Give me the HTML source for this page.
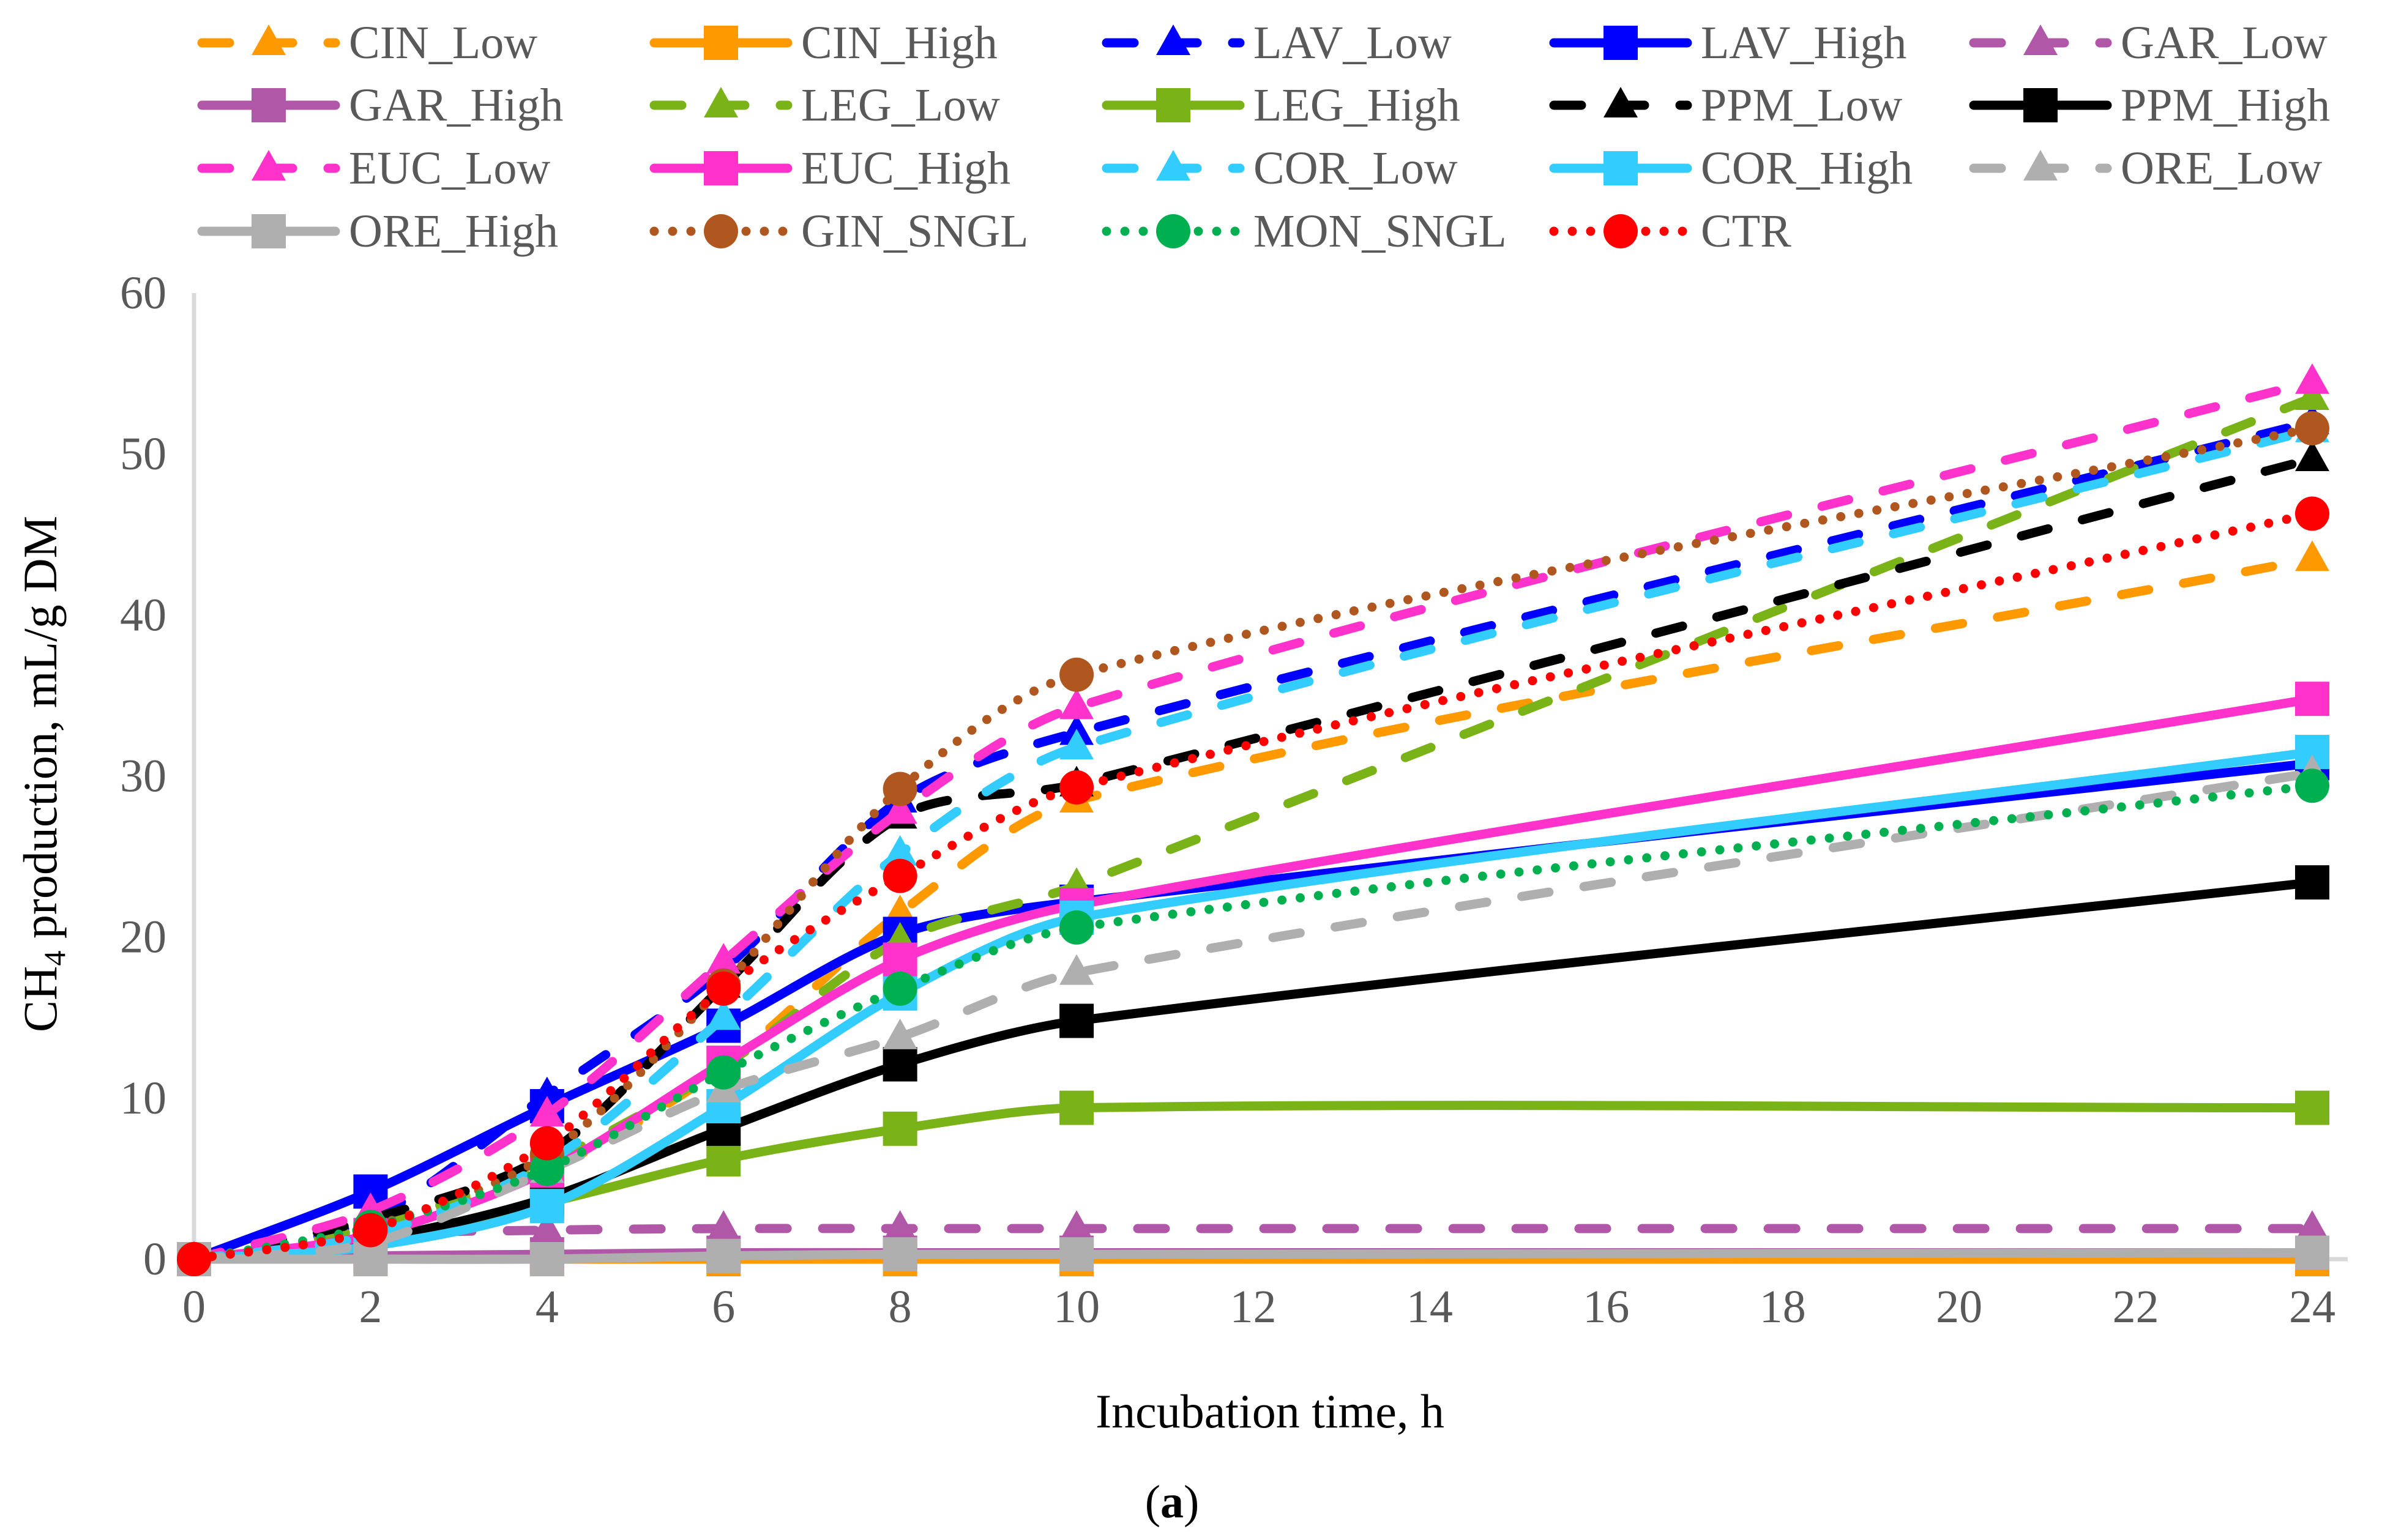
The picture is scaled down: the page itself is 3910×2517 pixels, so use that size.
<!DOCTYPE html>
<html><head><meta charset="utf-8"><style>
html,body{margin:0;padding:0;background:#fff}
svg{display:block}
text{font-family:"Liberation Serif",serif}
</style></head><body>
<svg id="chart" width="3910" height="2517" viewBox="0 0 3910 2517" xmlns="http://www.w3.org/2000/svg">
<g id="axes"></g>
<g id="series"></g>
<g id="legend"></g>
<text x="2075" y="2333" font-size="78" text-anchor="middle" fill="#000">Incubation time, h</text>
<text x="1915" y="2480" font-size="76" text-anchor="middle" fill="#000">(<tspan font-weight="bold">a</tspan>)</text>
<text transform="translate(92,1265) rotate(-90)" font-size="78" text-anchor="middle" fill="#000">CH<tspan font-size="50" dy="14">4</tspan><tspan dy="-14"> production, mL/g DM</tspan></text>
</svg>
<script>
const hours = [0,2,4,6,8,10,24];
const xTicks = [0,2,4,6,8,10,12,14,16,18,20,22,24];
const yTicks = [0,10,20,30,40,50,60];
const names = ["CIN_Low","CIN_High","LAV_Low","LAV_High","GAR_Low","GAR_High","LEG_Low","LEG_High","PPM_Low","PPM_High","EUC_Low","EUC_High","COR_Low","COR_High","ORE_Low","ORE_High","GIN_SNGL","MON_SNGL","CTR"];
const colors = ["#ff9900","#ff9900","#0000ff","#0000ff","#b057a8","#b057a8","#7ab317","#7ab317","#000000","#000000","#ff33cc","#ff33cc","#33ccff","#33ccff","#afafaf","#afafaf","#b0561f","#00b050","#ff0000"];
const styles = ["low","high","low","high","low","high","low","high","low","high","low","high","low","high","low","high","dot","dot","dot"];
const CIN_Low  = [0,2,5.5,12,21.5,28.5,43.5];
const CIN_High = [0,0,0,0,0,0,0];
const LAV_Low  = [0,2.5,10.2,18,28.5,32.7,52];
const LAV_High = [0,4.2,9.5,14.5,20.2,22.2,30.8];
const GAR_Low  = [0,1.5,1.8,1.9,1.9,1.9,1.9];
const GAR_High = [0,0.2,0.3,0.4,0.4,0.4,0.4];
const LEG_Low  = [0,2,6,12,19.8,23.2,53.5];
const LEG_High = [0,1.2,3.5,6.2,8.1,9.4,9.4];
const PPM_Low  = [0,2.5,6.5,17,27.5,29.5,49.7];
const PPM_High = [0,1.2,3.8,8.1,12.1,14.8,23.4];
const EUC_Low  = [0,3,9,18.5,27.8,34.3,54.5];
const EUC_High = [0,1.5,5.5,12.2,18.6,22,34.8];
const COR_Low  = [0,1.5,6,15,25.2,31.8,51.5];
const COR_High = [0,0.8,3.3,9.5,16.5,21.2,31.5];
const ORE_Low  = [0,1,5.5,10.5,13.8,17.8,30.2];
const ORE_High = [0,0,0,0.2,0.3,0.3,0.4];
const GIN_SNGL = [0,2,6.5,17,29.2,36.3,51.6];
const MON_SNGL = [0,2,5.6,11.6,16.8,20.6,29.4];
const CTR      = [0,1.8,7.2,16.8,23.8,29.3,46.3];
const seriesValues = [CIN_Low,CIN_High,LAV_Low,LAV_High,GAR_Low,GAR_High,LEG_Low,LEG_High,PPM_Low,PPM_High,EUC_Low,EUC_High,COR_Low,COR_High,ORE_Low,ORE_High,GIN_SNGL,MON_SNGL,CTR];

const NS="http://www.w3.org/2000/svg";
const X0=317, X1=3778, Y0=2058, Y1=479;
function sx(v){return X0+(v-0)/(24-0)*(X1-X0);}
function sy(v){return Y0-(v-0)/(60-0)*(Y0-Y1);}
function mk(tag,attrs,parent){const e=document.createElementNS(NS,tag);for(const k in attrs)e.setAttribute(k,attrs[k]);parent.appendChild(e);return e;}

const axes=document.getElementById('axes');
let yl=mk('line',{x1:X0,y1:Y1,x2:X0,y2:Y0,stroke:'#d9d9d9','stroke-width':7},axes);


let xl=mk('line',{x1:X0,y1:Y0,x2:3836,y2:Y0,stroke:'#d9d9d9','stroke-width':7},axes);


yTicks.forEach(t=>{
  const e=mk('text',{x:X0-45,y:sy(t)+25,'font-size':76,'text-anchor':'end',fill:'#595959'},axes);
  e.textContent=t;
  
  
});
xTicks.forEach(t=>{
  const e=mk('text',{x:sx(t),y:Y0+103,'font-size':76,'text-anchor':'middle',fill:'#595959'},axes);
  e.textContent=t;
  
  
});

function smoothPath(pts){
  const n=pts.length;
  const tan=pts.map((p,i)=>{
    const a=pts[Math.max(0,i-1)],b=pts[Math.min(n-1,i+1)];
    const dx=b[0]-a[0],dy=b[1]-a[1],L=Math.hypot(dx,dy)||1;
    return [dx/L,dy/L];
  });
  let d=`M${pts[0][0]},${pts[0][1]}`;
  for(let i=0;i<n-1;i++){
    const p1=pts[i],p2=pts[i+1];
    const L=Math.hypot(p2[0]-p1[0],p2[1]-p1[1])*0.3;
    const c1=[p1[0]+tan[i][0]*L,p1[1]+tan[i][1]*L];
    const c2=[p2[0]-tan[i+1][0]*L,p2[1]-tan[i+1][1]*L];
    d+=` C${c1[0]},${c1[1]} ${c2[0]},${c2[1]} ${p2[0]},${p2[1]}`;
  }
  return d;
}
function lineAttrs(style,color){
  const a={fill:'none',stroke:color,'stroke-width':15,'stroke-linecap':'round','stroke-linejoin':'round'};
  if(style==='low')a['stroke-dasharray']='45 58';
  if(style==='dot')a['stroke-dasharray']='0 30';
  return a;
}
function marker(style,color,cx,cy,parent){
  let e;
  if(style==='low') e=mk('polygon',{points:`${cx-28},${cy+20} ${cx+28},${cy+20} ${cx},${cy-30}`,fill:color},parent);
  else if(style==='high') e=mk('rect',{x:cx-28,y:cy-28,width:56,height:56,fill:color},parent);
  else e=mk('circle',{cx:cx,cy:cy,r:28,fill:color},parent);
  return e;
}
const layer=document.getElementById('series');
seriesValues.forEach((vals,i)=>{
  const g=mk('g',{},layer);
  
  
  const pts=hours.map((h,j)=>[sx(h),sy(vals[j])]);
  const p=mk('path',Object.assign({d:smoothPath(pts)},lineAttrs(styles[i],colors[i])),g);
  
  
  pts.forEach(pt=>{
    const m=marker(styles[i],colors[i],pt[0],pt[1],g);
    
    
  });
});

const legCols=[322,1061,1800,2531,3217];
const legRows=[70,172,275,378];
const leg=document.getElementById('legend');
names.forEach((n,i)=>{
  const c=i%5,r=Math.floor(i/5);
  const x=legCols[c],y=legRows[r];
  const g=mk('g',{},leg);
  
  
  mk('path',Object.assign({d:`M${x+8},${y} L${x+226},${y}`},lineAttrs(styles[i],colors[i])),g);
  marker(styles[i],colors[i],x+117,y,g);
  const t=mk('text',{x:x+248,y:y+25,'font-size':76,fill:'#595959'},g);
  t.textContent=n;
});
</script>
</body></html>
